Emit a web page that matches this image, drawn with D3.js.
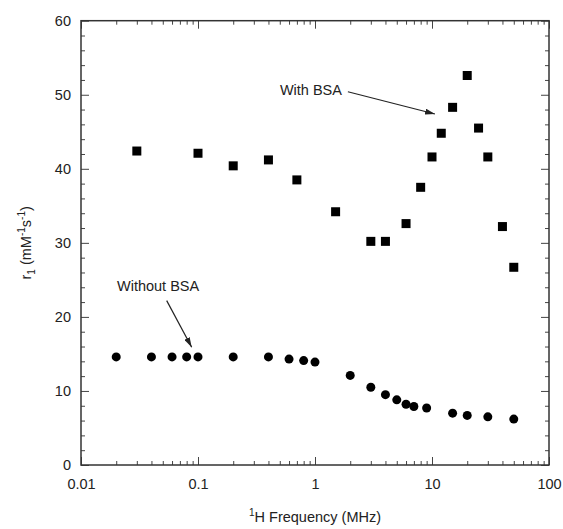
<!DOCTYPE html>
<html>
<head>
<meta charset="utf-8">
<script src="https://cdn.jsdelivr.net/npm/d3@7"></script>
<style>
  body { margin: 0; background: #fff; }
  text { font-family: "Liberation Sans", Arial, sans-serif; }
</style>
</head>
<body>
<svg id="chart" width="563" height="529"></svg>
<script>
// data
var withFreq = [0.03, 0.1, 0.2, 0.4, 0.7, 1.5, 3, 4, 6, 8, 10, 12, 15, 20, 25, 30, 40, 50];
var withR1   = [42.4, 42.1, 40.4, 41.2, 38.5, 34.2, 30.2, 30.2, 32.6, 37.5, 41.6, 44.8, 48.3, 52.6, 45.5, 41.6, 32.2, 26.7];
var withoutFreq = [0.02, 0.04, 0.06, 0.08, 0.1, 0.2, 0.4, 0.6, 0.8, 1, 2, 3, 4, 5, 6, 7, 9, 15, 20, 30, 50];
var withoutR1   = [14.6, 14.6, 14.6, 14.6, 14.6, 14.6, 14.6, 14.3, 14.1, 13.9, 12.1, 10.5, 9.5, 8.8, 8.2, 7.9, 7.7, 7.0, 6.7, 6.5, 6.2];
var xMajor = [0.01, 0.1, 1, 10, 100];
var xLabels = ["0.01", "0.1", "1", "10", "100"];
var yMajor = [0, 10, 20, 30, 40, 50, 60];

var svg = d3.select("#chart");
var pLeft = 81, pRight = 549, pTop = 20.7, pBottom = 465;

var x = d3.scaleLog().domain([0.01, 100]).range([pLeft, pRight]);
var y = d3.scaleLinear().domain([0, 60]).range([pBottom, pTop]);

// minor ticks: 2..9 of every decade, and every 2 on y
var xMinor = [];
xMajor.slice(0, -1).forEach(function(d) {
  for (var k = 2; k < 10; k++) xMinor.push(d * k);
});
var yMinor = d3.range(0, 61, 2).filter(function(v) { return v % 10 != 0; });

function styleAxis(g) {
  g.select(".domain").remove();
  g.selectAll("line").attr("stroke", "#444").attr("stroke-width", 1);
  g.selectAll("text").attr("fill", "#222").style("font-size", "14.5px");
}

svg.append("g").attr("transform", "translate(0," + pBottom + ")")
  .call(d3.axisBottom(x).tickValues(xMajor).tickSize(-8).tickPadding(14)
        .tickFormat(function(d, i) { return xLabels[i]; }))
  .call(styleAxis);
svg.append("g").attr("transform", "translate(0," + pBottom + ")")
  .call(d3.axisBottom(x).tickValues(xMinor).tickSize(-4).tickFormat(""))
  .call(styleAxis);
svg.append("g").attr("transform", "translate(0," + pTop + ")")
  .call(d3.axisTop(x).tickValues(xMajor).tickSize(-8).tickFormat(""))
  .call(styleAxis);
svg.append("g").attr("transform", "translate(0," + pTop + ")")
  .call(d3.axisTop(x).tickValues(xMinor).tickSize(-4).tickFormat(""))
  .call(styleAxis);

svg.append("g").attr("transform", "translate(" + pLeft + ",0)")
  .call(d3.axisLeft(y).tickValues(yMajor).tickSize(-8).tickPadding(10))
  .call(styleAxis);
svg.append("g").attr("transform", "translate(" + pLeft + ",0)")
  .call(d3.axisLeft(y).tickValues(yMinor).tickSize(-4).tickFormat(""))
  .call(styleAxis);
svg.append("g").attr("transform", "translate(" + pRight + ",0)")
  .call(d3.axisRight(y).tickValues(yMajor).tickSize(-8).tickFormat(""))
  .call(styleAxis);
svg.append("g").attr("transform", "translate(" + pRight + ",0)")
  .call(d3.axisRight(y).tickValues(yMinor).tickSize(-4).tickFormat(""))
  .call(styleAxis);

// frame
svg.append("rect")
  .attr("x", pLeft).attr("y", pTop)
  .attr("width", pRight - pLeft).attr("height", pBottom - pTop)
  .attr("fill", "none").attr("stroke", "#333").attr("stroke-width", 1.5);

// with BSA: squares
var sq = 9;
svg.append("g").selectAll("rect")
  .data(withFreq)
  .enter().append("rect")
  .attr("x", function(d) { return x(d) - sq / 2; })
  .attr("y", function(d, i) { return y(withR1[i]) - sq / 2; })
  .attr("width", sq).attr("height", sq)
  .attr("fill", "#000");

// without BSA: circles
svg.append("g").selectAll("circle")
  .data(withoutFreq)
  .enter().append("circle")
  .attr("cx", function(d) { return x(d); })
  .attr("cy", function(d, i) { return y(withoutR1[i]); })
  .attr("r", 4.5)
  .attr("fill", "#000");

// annotations
svg.append("defs").append("marker")
  .attr("id", "head")
  .attr("viewBox", "0 0 10 6")
  .attr("refX", 10).attr("refY", 3)
  .attr("markerWidth", 10).attr("markerHeight", 6)
  .attr("markerUnits", "userSpaceOnUse")
  .attr("orient", "auto")
  .append("path").attr("d", "M0,0L10,3L0,6Z").attr("fill", "#222");

function arrow(f0, v0, f1, v1) {
  svg.append("line")
    .attr("x1", x(f0)).attr("y1", y(v0))
    .attr("x2", x(f1)).attr("y2", y(v1))
    .attr("stroke", "#222").attr("stroke-width", 1.2)
    .attr("marker-end", "url(#head)");
}
arrow(1.91, 50.4, 10.6, 47.4);
arrow(0.054, 22.2, 0.0883, 15.9);

svg.append("text")
  .attr("x", x(1.7)).attr("y", y(50))
  .attr("text-anchor", "end")
  .style("font-size", "14.5px").attr("fill", "#222")
  .text("With BSA");
svg.append("text")
  .attr("x", x(0.0203)).attr("y", y(23.5))
  .style("font-size", "14.5px").attr("fill", "#222")
  .text("Without BSA");

// axis titles
var xt = svg.append("text")
  .attr("x", x(1)).attr("y", 522)
  .attr("text-anchor", "middle")
  .style("font-size", "14.5px").attr("fill", "#222");
xt.append("tspan").attr("dy", "-6").style("font-size", "10px").text("1");
xt.append("tspan").attr("dy", "6").text("H Frequency (MHz)");

var yt = svg.append("text")
  .attr("transform", "translate(31," + y(30) + ") rotate(-90)")
  .attr("text-anchor", "middle")
  .style("font-size", "14.5px").attr("fill", "#222");
yt.append("tspan").text("r");
yt.append("tspan").attr("dy", "4").style("font-size", "10px").text("1");
yt.append("tspan").attr("dy", "-4").text(" (mM");
yt.append("tspan").attr("dy", "-6").style("font-size", "10px").text("-1");
yt.append("tspan").attr("dy", "6").text("s");
yt.append("tspan").attr("dy", "-6").style("font-size", "10px").text("-1");
yt.append("tspan").attr("dy", "6").text(")");
</script>
</body>
</html>
